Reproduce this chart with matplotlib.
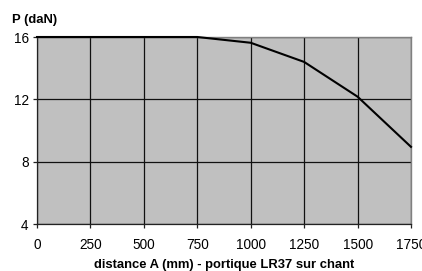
import matplotlib
matplotlib.use("Agg")
import matplotlib.pyplot as plt

distance = [0, 250, 500, 750, 1000, 1250, 1500, 1750]
force = [16, 16, 16, 16, 15.63, 14.4, 12.17, 8.95]
xticks = [0, 250, 500, 750, 1000, 1250, 1500, 1750]
yticks = [4, 8, 12, 16]

plt.rcParams['font.family'] = ['Liberation Sans', 'DejaVu Sans']

fig = plt.figure(figsize=(4.22, 2.71), dpi=100)
ax = fig.add_axes([37/422, 1 - 224/271, (411-37)/422, (224-37)/271])
ax.set_facecolor('#C0C0C0')
ax.set_xlim(0, 1750)
ax.set_ylim(4, 16)
ax.set_xticks(xticks)
ax.set_yticks(yticks)
ax.grid(True, color='#111111', linewidth=0.9)
ax.set_axisbelow(True)
ax.plot(distance, force, color='black', linewidth=1.5, clip_on=False, zorder=3)
for s in ['left', 'bottom']:
    ax.spines[s].set_color('#222222')
    ax.spines[s].set_linewidth(0.9)
for s in ['top', 'right']:
    ax.spines[s].set_color('#808080')
    ax.spines[s].set_linewidth(1.0)
ax.tick_params(axis='both', direction='out', length=3, width=0.9, color='#222222',
               labelsize=9.8)
ax.tick_params(axis='x', pad=7)
ax.tick_params(axis='y', pad=3)
fig.text(12/422, 1 - 20/271, 'P (daN)', fontsize=9.4, fontweight='bold', va='center', ha='left')
fig.text(224/422, 1 - 265/271, 'distance A (mm) - portique LR37 sur chant', fontsize=9.4,
         fontweight='bold', va='center', ha='center')
fig.savefig('out.png', dpi=100)
